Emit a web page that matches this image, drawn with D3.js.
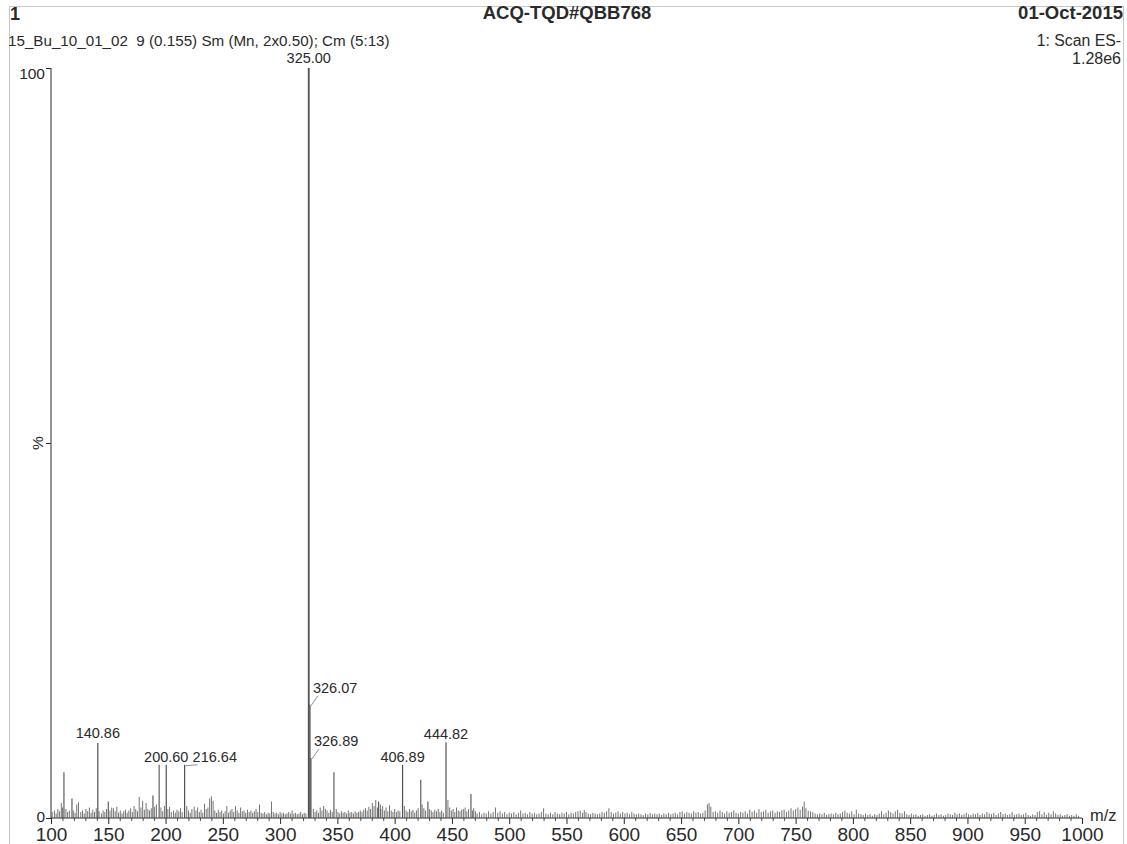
<!DOCTYPE html>
<html>
<head>
<meta charset="utf-8">
<script src="https://cdn.jsdelivr.net/npm/d3@7"></script>
<style>
  html, body { margin: 0; padding: 0; background: #fff; }
  svg { display: block; font-family: "Liberation Sans", Arial, sans-serif; }
</style>
</head>
<body>
<svg id="chart" width="1127" height="844"></svg>
<script>
// ---- header texts ----
const headerLeft = "1";
const headerCenter = "ACQ-TQD#QBB768";
const headerRight = "01-Oct-2015";
const sampleLine = "15_Bu_10_01_02  9 (0.155) Sm (Mn, 2x0.50); Cm (5:13)";
const scanLine = "1: Scan ES-";
const intensityLine = "1.28e6";

// ---- axis definitions ----
const mzDomain = [100, 1000];
const pctDomain = [0, 100];
const xTickValues = [100, 150, 200, 250, 300, 350, 400, 450, 500, 550, 600, 650, 700, 750, 800, 850, 900, 950, 1000];
const xMinorStep = 10;
const yTickLabels = ["0", "100"];

// ---- labelled peaks: m/z, relative intensity (%) ----
const peakMz  = [325.00, 326.07, 326.89, 140.86, 200.60, 216.64, 406.89, 444.82];
const peakPct = [100, 15.1, 8.0, 10.0, 7.1, 7.1, 7.1, 10.1];

// ---- other prominent, unlabelled peaks ----
const minorMz  = [111.3, 118.3, 194.4, 347.0, 422.8, 429.0, 466.6, 386.0, 189.0, 150.0];
const minorPct = [6.1, 2.6, 7.1, 6.1, 5.1, 2.2, 3.2, 2.2, 3.0, 2.2];

// ---- baseline noise (m/z, %) ----
const noiseLow = [
  [101,0.8],[103,1.0],[104.5,0.6],[106,1.2],[107.5,0.9],[109,2.0],[110,1.4],[113,1.2],[114.5,0.8],[116,1.0],
  [119.5,1.0],[121,0.7],[122.5,1.8],[124,2.1],[126,0.8],[127.5,1.0],[129,0.6],[130.5,1.2],[132,0.9],[133.5,1.4],
  [135,0.7],[136.5,1.1],[138,0.8],[139.5,1.3],[142,0.9],[144,0.6],[145.5,1.0],[147,0.8],[148.5,1.2],[151.5,1.0],
  [153,1.4],[154.5,1.3],[156,0.9],[157.5,1.5],[159,0.7],[160.5,1.0],[162,0.6],[163.5,0.9],[165,1.1],[166.5,0.7],
  [168,1.0],[169.5,1.3],[171,0.8],[172.5,1.6],[174,1.2],[175.5,0.9],[177,2.8],[178.5,1.4],[180,2.3],[181.5,1.1],
  [183,2.0],[184.5,1.2],[186,1.0],[187.5,1.3],[190.5,1.5],[192,1.8],[196,1.4],[197.5,0.9],[199,1.6],[202,1.2],
  [203.5,1.5],[205,0.8],[207,1.0],[208.5,0.7],[210,1.1],[211.5,0.9],[213,1.3],[214.5,0.8],[218.5,1.6],[220,1.0],
  [221.5,0.7],[223,1.2],[225,1.5],[226.5,1.0],[228,1.4],[229.5,0.8],[231,1.1],[232.5,0.7],[234,1.9],[235.5,1.2],
  [237,1.4],[238.5,2.6],[240,2.9],[241.5,2.3],[243,1.0],[244.5,0.7],[246,1.1],[247.5,0.8],[249,1.0],[250.5,0.6],
  [252,0.9],[253.5,1.6],[255,0.7],[256.5,1.0],[258,1.2],[259.5,0.8],[261,1.6],[262.5,1.0],[264,0.7],[265.5,1.4],
  [267,0.9],[268.5,1.0],[270,0.7],[271.5,1.1],[273,0.8],[274.5,1.0],[276,0.7],[277.5,0.9],[279,1.2],[280.5,0.8],
  [282,1.8],[283.5,0.7],[285,0.6],[286.5,0.8],[288,0.5],[289.5,0.7],[291,0.6],[292.5,2.2],[294,0.8],[295.5,0.6],
  [297,0.7],[298.5,0.5],[300,0.8],[301.5,0.6],[303,0.7],[304.5,0.5],[306,0.6],[307.5,0.8],[309,0.6],[310.5,1.0],
  [312,0.6],[313.5,0.7],[315,0.5],[316.5,0.6],[318,0.8],[319.5,0.5],[321,0.7],[322.5,0.6],[329,1.2],[330.5,0.8],
  [332,1.0],[333.5,0.7],[335,1.4],[336.5,1.0],[338,1.6],[339.5,1.2],[341,1.0],[342.5,0.7],[344,1.1],[345.5,0.8],
  [349,1.2],[350.5,0.8],[352,0.6],[353.5,0.9],[355,0.7],[356.5,0.8],[358,0.6],[359.5,1.0],[361,0.7],[362.5,0.8],
  [364,0.6],[365.5,0.9],[367,0.7],[368.5,0.8],[370,1.0],[371.5,0.8],[373,1.1],[374.5,1.3],[376,1.0],[377.5,1.5],
  [379,1.2],[380.5,2.0],[382,1.6],[383.5,2.4],[385,1.4],[387.5,1.8],[388,1.2],[389.5,1.6],[391,1.0],[392.5,1.4],
  [394,0.9],[395.5,1.7],[397,1.0],[398.5,0.8],[400,1.2],[401.5,0.8],[403,1.0],[404.5,0.9],[408.5,1.6],[410,1.0],
  [411.5,0.8],[413,1.2],[414.5,0.9],[416,1.1],[417.5,0.7],[419,1.0],[420.5,1.3],[424,1.8],[425.5,1.3],[427,1.0],
  [430.5,1.2],[432,1.0],[433.5,0.8],[435,1.1],[436.5,0.9],[438,1.2],[439.5,0.8],[441,1.0],[442.5,0.7],[446.5,2.4],
  [448,1.4],[449.5,1.0],[451,1.2],[452.5,0.8],[454,1.4],[455.5,1.0],[457,0.9],[458.5,1.1],[460,1.2],[461.5,1.4],
  [463,0.9],[464.5,1.2],[468,1.0],[469,1.3],[470.5,0.9]
];
const noiseHigh = [
  [472,0.6],[474,0.8],[476,0.5],[478,0.7],[480,0.6],[482,0.9],[484,0.6],[486,0.8],[488,1.4],[490,0.7],
  [492,0.9],[494,0.6],[496,0.8],[498,0.5],[500,0.7],[502,0.6],[504,0.8],[506,0.5],[508,0.7],[510,1.0],
  [512,0.6],[514,0.7],[516,0.5],[518,0.8],[520,0.6],[522,0.7],[524,0.5],[526,0.6],[528,0.8],[530,1.3],
  [532,0.6],[534,0.5],[536,0.7],[538,0.5],[540,0.8],[542,0.6],[544,0.5],[546,0.7],[548,0.6],[550,0.8],
  [552,0.5],[554,0.7],[556,0.6],[558,0.8],[560,0.9],[562,1.0],[564,0.7],[565.5,1.1],[567,0.8],[569,0.6],
  [571,0.5],[573,0.7],[575,0.6],[577,0.5],[579,0.6],[581,0.8],[583,0.7],[585,0.9],[587,1.3],[589,0.8],
  [591,0.6],[593,0.7],[595,0.9],[597,0.6],[599,0.8],[601,0.6],[603,0.7],[605,0.5],[607,0.8],[609,0.6],
  [611,0.5],[613,0.6],[615,0.5],[617,0.4],[619,0.6],[621,0.5],[623,0.7],[625,0.5],[627,0.6],[629,0.5],
  [631,0.6],[633,0.4],[635,0.6],[637,0.5],[639,0.7],[641,0.5],[643,0.6],[645,0.7],[647,0.5],[649,0.8],
  [651,0.9],[653,0.6],[655,0.8],[657,0.7],[659,0.6],[661,0.9],[663,0.7],[665,0.8],[667,0.6],[669,0.7],
  [671,1.0],[673,1.8],[674.5,2.0],[676,1.5],[678,0.8],[680,0.9],[682,0.7],[684,1.0],[686,0.8],[688,0.6],
  [690,0.9],[692,0.7],[694,0.8],[696,1.0],[698,0.7],[700,0.6],[702,0.8],[704,0.7],[706,0.9],[708,0.6],
  [710,1.1],[712,0.8],[714,1.0],[716,0.7],[718,1.2],[720,0.8],[722,0.9],[724,1.1],[726,0.7],[728,0.9],
  [730,1.0],[732,0.7],[734,0.9],[736,0.8],[738,1.0],[740,1.1],[742,0.8],[744,1.0],[746,1.3],[748,1.0],
  [750,1.2],[752,1.4],[754,1.1],[756,1.5],[757.5,2.2],[759,1.3],[761,1.0],[763,0.9],[765,0.8],[767,0.6],
  [769,0.5],[771,0.6],[773,0.5],[775,0.7],[777,0.4],[779,0.5],[781,0.6],[783,0.5],[785,0.7],[787,0.5],
  [789,0.6],[791,0.8],[793,1.0],[795,0.7],[797,0.6],[799,0.9],[801,0.5],[803,1.1],[805,0.6],[807,0.5],
  [809,0.4],[811,0.6],[813,0.4],[815,0.5],[817,0.3],[819,0.5],[821,0.4],[823,0.6],[825,0.9],[827,0.5],
  [829,0.7],[831,1.0],[833,0.8],[835,0.6],[837,0.9],[839,1.1],[841,0.7],[843,0.6],[845,0.9],[847,0.5],
  [849,0.4],[851,0.6],[853,0.4],[855,0.5],[857,0.3],[859,0.4],[861,0.5],[863,0.3],[865,0.4],[867,0.5],
  [869,0.3],[871,0.4],[873,0.6],[875,0.4],[877,0.5],[879,0.3],[881,0.4],[883,0.6],[885,0.5],[887,0.4],
  [889,0.7],[891,0.5],[893,0.6],[895,0.4],[897,0.5],[899,0.7],[901,0.5],[903,0.4],[905,0.6],[907,0.5],
  [909,0.7],[911,0.4],[913,0.6],[915,0.5],[917,0.8],[919,0.6],[921,0.5],[923,0.7],[925,0.4],[927,0.6],
  [929,0.8],[931,0.5],[933,0.6],[935,0.4],[937,0.5],[939,0.8],[941,0.4],[943,0.5],[945,0.6],[947,0.4],
  [949,0.5],[951,0.7],[953,0.4],[955,0.3],[957,0.5],[959,0.4],[961,0.8],[963,0.9],[965,0.5],[967,0.8],
  [969,0.4],[971,0.7],[973,0.5],[975,0.9],[977,0.6],[979,0.4],[981,0.5],[983,0.3],[985,0.4],[987,0.5],
  [989,0.3],[991,0.4],[993,0.3],[995,0.5],[997,0.3]
];

// ---- layout ----
const svg = d3.select("#chart");
const plot = { left: 51, right: 1082, top: 68, bottom: 818 };
const ink = "#2a2a2a";
const traceInk = "#505050";

const x = d3.scaleLinear().domain(mzDomain).range([plot.left, plot.right]);
const y = d3.scaleLinear().domain(pctDomain).range([plot.bottom, plot.top]);

// faint page frame
svg.append("rect")
  .attr("x", 9.5).attr("y", 6.5).attr("width", 1114).attr("height", 850)
  .attr("fill", "none").attr("stroke", "#c8c8c8").attr("stroke-width", 1);

// header
svg.append("text").attr("x", 10).attr("y", 20).attr("font-size", 18).attr("font-weight", "bold")
  .attr("fill", ink).text(headerLeft);
svg.append("text").attr("x", 567).attr("y", 19).attr("font-size", 18.5).attr("font-weight", "bold")
  .attr("text-anchor", "middle").attr("fill", ink).text(headerCenter);
svg.append("text").attr("x", 1123).attr("y", 19).attr("font-size", 18.5).attr("font-weight", "bold")
  .attr("text-anchor", "end").attr("fill", ink).text(headerRight);
svg.append("text").attr("x", 8).attr("y", 46).attr("font-size", 15.2)
  .attr("fill", ink).style("white-space", "pre").text(sampleLine);
svg.append("text").attr("x", 1121).attr("y", 46).attr("font-size", 15.8)
  .attr("text-anchor", "end").attr("fill", ink).text(scanLine);
svg.append("text").attr("x", 1121).attr("y", 64).attr("font-size", 16)
  .attr("text-anchor", "end").attr("fill", ink).text(intensityLine);

// y axis (left spine with ticks at 0, 50 and 100)
const yAxis = d3.axisLeft(y).tickValues([0, 50, 100]).tickSize(5).tickFormat(() => "");
const gy = svg.append("g").attr("transform", `translate(${plot.left},0)`).call(yAxis);
gy.select(".domain").attr("stroke", ink).attr("d", `M0,${plot.top}V${plot.bottom}`);
gy.selectAll(".tick line").attr("stroke", ink);
svg.append("text").attr("x", 45).attr("y", y(0) + 4).attr("font-size", 15.5).attr("text-anchor", "end")
  .attr("fill", ink).text(yTickLabels[0]);
svg.append("text").attr("x", 45).attr("y", y(100) + 11).attr("font-size", 15.5).attr("text-anchor", "end")
  .attr("fill", ink).text(yTickLabels[1]);
svg.append("text").attr("transform", `translate(43,${y(50)}) rotate(-90)`)
  .attr("font-size", 15.5).attr("text-anchor", "middle").attr("fill", ink).text("%");

// x axis: minor ticks every 10, major (labelled) every 50
const minorTicks = d3.range(mzDomain[0], mzDomain[1] + 1, xMinorStep).filter(v => v % 50 !== 0);
const gxMinor = svg.append("g").attr("transform", `translate(0,${plot.bottom})`)
  .call(d3.axisBottom(x).tickValues(minorTicks).tickSize(3).tickFormat(() => ""));
gxMinor.select(".domain").remove();
gxMinor.selectAll(".tick line").attr("stroke", traceInk);

const gx = svg.append("g").attr("transform", `translate(0,${plot.bottom})`)
  .call(d3.axisBottom(x).tickValues(xTickValues).tickSize(6).tickPadding(4).tickFormat(d3.format("d")));
gx.select(".domain").attr("stroke", ink).attr("d", `M${plot.left},0H${plot.right}`);
gx.selectAll(".tick line").attr("stroke", ink);
gx.selectAll(".tick text").attr("font-size", 19).attr("fill", ink)
  .attr("font-family", "Liberation Sans, Arial, sans-serif");

svg.append("text").attr("x", 1090).attr("y", 821).attr("font-size", 16.5).attr("fill", ink).text("m/z");

// spectrum sticks
const sticks = svg.append("g");
const allNoise = noiseLow.concat(noiseHigh);
sticks.selectAll("line.noise").data(allNoise).join("line")
  .attr("class", "noise")
  .attr("x1", d => x(d[0])).attr("x2", d => x(d[0]))
  .attr("y1", y(0)).attr("y2", d => y(d[1]))
  .attr("stroke", traceInk).attr("stroke-width", 0.8);

const minorData = minorMz.map((m, i) => ({ mz: m, pct: minorPct[i] }));
sticks.selectAll("line.minor").data(minorData).join("line")
  .attr("class", "minor")
  .attr("x1", d => x(d.mz)).attr("x2", d => x(d.mz))
  .attr("y1", y(0)).attr("y2", d => y(d.pct))
  .attr("stroke", traceInk).attr("stroke-width", 1.1);

const peakData = peakMz.map((m, i) => ({ mz: m, pct: peakPct[i] }));
sticks.selectAll("line.peak").data(peakData).join("line")
  .attr("class", "peak")
  .attr("x1", d => x(d.mz)).attr("x2", d => x(d.mz))
  .attr("y1", y(0)).attr("y2", d => y(d.pct))
  .attr("stroke", traceInk).attr("stroke-width", (d, i) => i === 0 ? 1.8 : 1.2);

// peak labels; some sit offset with a short leader to the apex
const labelSpec = [
  { dx: 0,   dy: -5,  anchor: "middle", leader: false },  // 325.00
  { dx: 3,   dy: -12, anchor: "start",  leader: true },   // 326.07
  { dx: 3,   dy: -12, anchor: "start",  leader: true },   // 326.89
  { dx: 0,   dy: -5,  anchor: "middle", leader: false },  // 140.86
  { dx: 0,   dy: -3,  anchor: "middle", leader: false },  // 200.60
  { dx: 8,   dy: -3,  anchor: "start",  leader: true },   // 216.64
  { dx: 0,   dy: -3,  anchor: "middle", leader: false },  // 406.89
  { dx: 0,   dy: -3,  anchor: "middle", leader: false }   // 444.82
];
const labelG = svg.append("g");
peakData.forEach((d, i) => {
  const s = labelSpec[i];
  const px = x(d.mz), py = y(d.pct);
  labelG.append("text")
    .attr("x", px + s.dx).attr("y", py + s.dy)
    .attr("font-size", 14.5).attr("text-anchor", s.anchor).attr("fill", ink)
    .text(d.mz.toFixed(2));
  if (s.leader) {
    labelG.append("line")
      .attr("x1", px + s.dx + 5).attr("y1", py + s.dy + 3)
      .attr("x2", px + 1).attr("y2", py + 1)
      .attr("stroke", "#777").attr("stroke-width", 0.8);
  }
});
</script>
</body>
</html>
